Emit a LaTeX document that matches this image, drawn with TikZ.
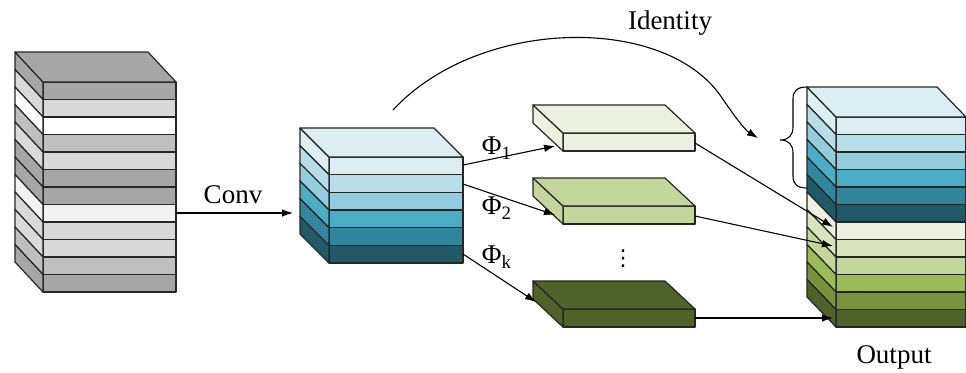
\documentclass[tikz,border=0pt]{standalone}
\usepackage{fontspec}
\setmainfont{Liberation Serif}
\newfontfamily\dejavu{DejaVu Sans}
\usetikzlibrary{arrows.meta}
\definecolor{gA}{HTML}{A6A6A6}
\definecolor{gB}{HTML}{D9D9D9}
\definecolor{gC}{HTML}{BFBFBF}
\definecolor{gD}{HTML}{F2F2F2}
\definecolor{bA}{HTML}{DBEEF4}
\definecolor{bB}{HTML}{B7DEE8}
\definecolor{bC}{HTML}{93CDDD}
\definecolor{bD}{HTML}{4BACC6}
\definecolor{bE}{HTML}{31859C}
\definecolor{bF}{HTML}{215968}
\definecolor{oA}{HTML}{EBF1DE}
\definecolor{oB}{HTML}{D7E4BD}
\definecolor{oC}{HTML}{C3D69B}
\definecolor{oD}{HTML}{9BBB59}
\definecolor{oE}{HTML}{77933C}
\definecolor{oF}{HTML}{4F6228}
\tikzset{
  edge/.style={draw=black!85, line width=0.6pt, line join=round},
  conn/.style={draw=black, line width=0.55pt, -{Latex[length=5.5pt,width=3.8pt]}},
  lbl/.style={font=\fontsize{13.5}{16}\selectfont, inner sep=0pt},
}
\newcommand{\stackbox}[8]{%
  \foreach \c [count=\i from 0] in {#8} {
    \pgfmathsetmacro\ya{#3+\i*#4}
    \pgfmathsetmacro\yb{#3+(\i+1)*#4}
    \path[edge,fill=\c] (#1,\ya) rectangle (#2,\yb);
    \path[edge,fill=\c] (#1,\ya) -- (#1,\yb) -- (#1-#5,\yb-#6) -- (#1-#5,\ya-#6) -- cycle;
  }
  \path[edge,fill=#7] (#1,#3) -- (#2,#3) -- (#2-#5,#3-#6) -- (#1-#5,#3-#6) -- cycle;
}
\begin{document}
\begin{tikzpicture}[x=0.5pt,y=-0.5pt]
\useasboundingbox (0,0) rectangle (966,372);
% input cube
\stackbox{43}{176}{82}{17.5}{28}{30}{gA}{gA,gB,white,gC,gB,gA,gA,gD,gB,gB,gC,gA}
% conv cube
\stackbox{329}{463}{157}{17.67}{29}{29}{bA}{bA,bB,bC,bD,bE,bF}
% slabs
\stackbox{563}{695}{133}{18}{30}{28}{oA}{oA}
\stackbox{563}{695}{206}{18}{30}{28}{oC}{oC}
\stackbox{563}{695}{309}{18}{30}{28}{oF}{oF}
% output cube
\stackbox{836}{966}{117}{17.5}{29}{30}{bA}{bA,bB,bC,bD,bE,bF,oA,oB,oC,oD,oE,oF}

% anchor coordinates
\coordinate (inR) at (176,213);
\coordinate (midL) at (293,213);
\coordinate (midR1) at (463,165);
\coordinate (midR2) at (463,184);
\coordinate (midRk) at (463,254);
\coordinate (s1L) at (555,146);
\coordinate (s2L) at (555,215);
\coordinate (skL) at (536,302);
\coordinate (s1R) at (695,143);
\coordinate (s2R) at (695,216);
\coordinate (skR) at (695,318);
\coordinate (o1) at (833,227);
\coordinate (o2) at (833,246);
\coordinate (ok) at (833,318);
\coordinate (idS) at (393,110);
\coordinate (idE) at (758,138);
\coordinate (brT) at (807,87);
\coordinate (brB) at (807,188);

% connectors
\draw[conn] (inR) -- (midL);
\draw[conn] (midR1) -- (s1L);
\draw[conn] (midR2) -- (s2L);
\draw[conn] (midRk) -- (skL);
\draw[conn] (s1R) -- (o1);
\draw[conn] (s2R) -- (o2);
\draw[conn] (skR) -- (ok);
\draw[conn] (idS) .. controls (478,18) and (662,14) .. (720,95) .. controls (735,117) and (745,130) .. (idE);
% brace
\draw[line width=0.55pt] (brT) .. controls (797,87) and (793,91) .. (793,99) -- (793,127)
  .. controls (793,135) and (789,140) .. (780,140)
  .. controls (789,140) and (793,145) .. (793,153) -- (793,176)
  .. controls (793,184) and (797,188) .. (brB);

% labels
\node[lbl] (lconv) at (233,195) {Conv};
\node[lbl] (lid) at (670,23) {Identity};
\node[lbl] (lp1) at (497,148) {Φ\textsubscript{1}};
\node[lbl] (lp2) at (497,208) {Φ\textsubscript{2}};
\node[lbl] (lpk) at (497,257) {Φ\textsubscript{k}};
\node[inner sep=0pt, font=\dejavu\fontsize{11}{12}\selectfont] (ldots) at (623,259) {⋮};
\node[lbl] (lout) at (894,357) {Output};
\end{tikzpicture}
\end{document}
